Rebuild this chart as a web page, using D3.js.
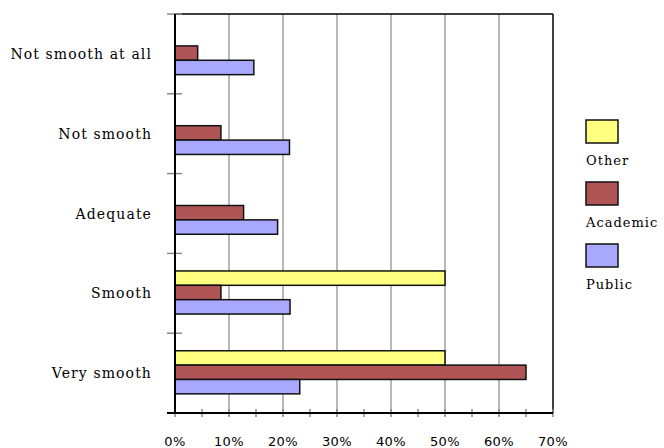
<!DOCTYPE html>
<html><head><meta charset="utf-8">
<script src="https://cdn.jsdelivr.net/npm/d3@7"></script>
<style>body{margin:0;background:#fff}svg{display:block}</style>
</head><body>
<svg id="c" width="664" height="448"></svg>
<script>
const categories = ["Not smooth at all","Not smooth","Adequate","Smooth","Very smooth"];
const seriesNames = ["Other","Academic","Public"];
const otherVals = [0, 0, 0, 50, 50];
const academicVals = [4.2, 8.5, 12.7, 8.5, 65];
const publicVals = [14.6, 21.2, 19.0, 21.3, 23.1];
const xTicks = [0,10,20,30,40,50,60,70];
const colors = {Other:"#FFFF80", Academic:"#B05555", Public:"#A8A8FF"};

const seriesVals = {Other: otherVals, Academic: academicVals, Public: publicVals};
const svg = d3.select("#c");
const L=175, R=553, T=14, B=413;
const x = d3.scaleLinear().domain([0,70]).range([L,R]);
const y = d3.scaleBand().domain(categories).range([T,B]);
const ys = d3.scaleBand().domain(seriesNames).range([y.bandwidth()*0.22, y.bandwidth()*0.76]);

// gridlines
svg.append("g").selectAll("line").data(xTicks.slice(1,-1)).join("line")
  .attr("x1",d=>x(d)).attr("x2",d=>x(d)).attr("y1",T).attr("y2",B)
  .attr("stroke","#a0a0a0").attr("stroke-width",1.5);

// bars
categories.forEach((c,i)=>{
  seriesNames.forEach(s=>{
    const v = seriesVals[s][i];
    if (v<=0) return;
    svg.append("rect").attr("x",x(0)).attr("y",y(c)+ys(s))
      .attr("width",x(v)-x(0)).attr("height",ys.bandwidth())
      .attr("fill",colors[s]).attr("stroke","#111").attr("stroke-width",1.5);
  });
});

// border top/right
svg.append("line").attr("x1",L).attr("x2",R).attr("y1",T).attr("y2",T).attr("stroke","#000").attr("stroke-width",1.5);
svg.append("line").attr("x1",R).attr("x2",R).attr("y1",T).attr("y2",B).attr("stroke","#000").attr("stroke-width",1.5);

// left axis ticks at band boundaries
const bounds = categories.map(c=>y(c)).concat([B]);
svg.append("g").selectAll("line").data(bounds).join("line")
  .attr("x1",L-8).attr("x2",L+7).attr("y1",d=>d).attr("y2",d=>d)
  .attr("stroke","#888").attr("stroke-width",1.5);
// bottom minor ticks every 5
const minor = d3.range(0,71,5);
svg.append("g").selectAll("line").data(minor).join("line")
  .attr("x1",d=>x(d)).attr("x2",d=>x(d)).attr("y1",B-4).attr("y2",B+4)
  .attr("stroke","#888").attr("stroke-width",1.5);

// axes lines
svg.append("line").attr("x1",L).attr("x2",L).attr("y1",T).attr("y2",B).attr("stroke","#000").attr("stroke-width",2);
svg.append("line").attr("x1",L-8).attr("x2",R).attr("y1",B).attr("y2",B).attr("stroke","#000").attr("stroke-width",2);

// category labels
svg.append("g").selectAll("text").data(categories).join("text")
  .attr("x",152).attr("y",d=>y(d)+y.bandwidth()/2+5)
  .attr("text-anchor","end").attr("font-family","DejaVu Serif").attr("font-size",14)
  .attr("letter-spacing","1.1px").attr("fill","#000").text(d=>d);

// x tick labels
svg.append("g").selectAll("text").data(xTicks).join("text")
  .attr("x",d=>x(d)).attr("y",446).attr("text-anchor","middle")
  .attr("font-family","DejaVu Sans").attr("font-size",13).attr("letter-spacing","0.4px").attr("fill","#000")
  .text(d=>d+"%");

// legend
const lg = svg.append("g");
seriesNames.forEach((s,i)=>{
  const yy = 120 + i*62;
  lg.append("rect").attr("x",586).attr("y",yy).attr("width",32).attr("height",23)
    .attr("fill",colors[s]).attr("stroke","#111").attr("stroke-width",1.5);
  lg.append("text").attr("x",586).attr("y",yy+45).attr("font-family","DejaVu Serif")
    .attr("font-size",13).attr("letter-spacing","1px").attr("fill","#000").text(s);
});
</script>
</body></html>
